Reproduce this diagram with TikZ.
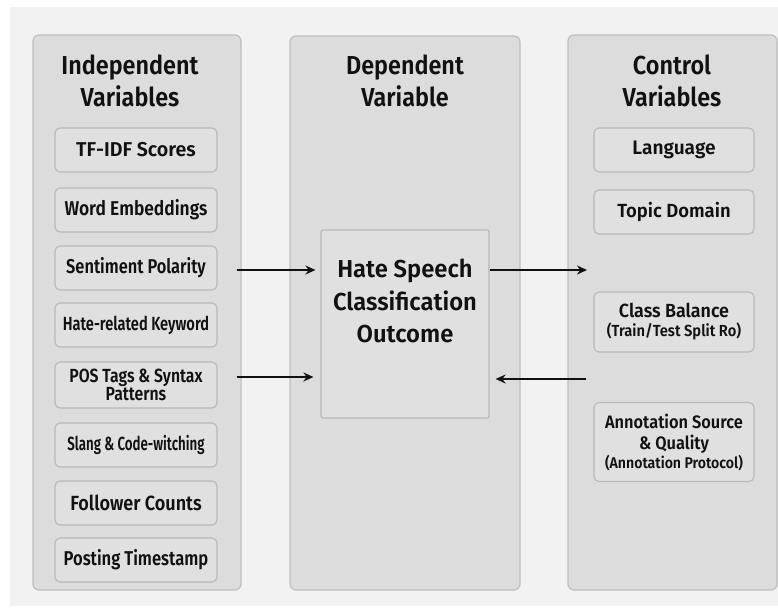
\documentclass[tikz,border=0pt]{standalone}
\usepackage{fontspec}
\setmainfont{Fira Sans}[UprightFont={* SemiBold},BoldFont={* SemiBold}]
\usetikzlibrary{arrows.meta}
\definecolor{bgc}{HTML}{F2F2F2}
\definecolor{panelfill}{HTML}{DCDCDC}
\definecolor{panelline}{HTML}{BEBEBE}
\definecolor{itemfill}{HTML}{E0E0E0}
\definecolor{itemline}{HTML}{B8B8B8}
\definecolor{ink}{HTML}{111111}
% size, leading and horizontal stretch of a text
\newcommand\sq[3]{\fontsize{#2}{#3}\selectfont\addfontfeatures{FakeStretch=#1}}
\tikzset{
  panel/.style={draw=panelline,fill=panelfill,line width=1.2pt,rounded corners=6pt},
  title/.style={font=\bfseries\sq{0.9}{26}{32},align=center,text=ink},
  leftitem/.style={draw=itemline,fill=itemfill,line width=1.1pt,rounded corners=5pt,
    minimum width=162pt,minimum height=44pt,inner sep=1pt,align=center,text=ink,
    font=\sq{0.9}{20}{20}},
  rightitem/.style={leftitem,minimum width=160pt},
  link/.style={draw=ink,line width=2.1pt,-{Stealth[length=10pt,width=9pt]}}
}
\begin{document}
\begin{tikzpicture}[x=1pt,y=-1pt]
\useasboundingbox (0,0) rectangle (778,613);
\fill[white] (0,0) rectangle (778,613);
\fill[bgc] (10,7) rectangle (778,606);

% three columns
\draw[panel] (33,35) rectangle (241,590);
\draw[panel] (290,36) rectangle (520,590);
\draw[panel] (568,35) rectangle (777,590);

% column titles
\node[title] (tind) at (130,81) {Independent\\Variables};
\node[title] (tdep) at (405,81) {Dependent\\Variable};
\node[title] (tctl) at (672,81) {Control\\Variables};

% independent variables
\node[leftitem,font=\sq{0.98}{20}{20}] (tfidf) at (136,150) {TF-IDF Scores};
\node[leftitem,font=\sq{0.87}{20}{20}] (emb) at (136,210) {Word Embeddings};
\node[leftitem,font=\sq{0.82}{20}{20}] (sent) at (136,268) {Sentiment Polarity};
\node[leftitem,font=\sq{0.77}{19}{19}] (kw) at (136,325) {Hate-related Keyword};
\node[leftitem,minimum height=46pt,font=\sq{0.83}{19}{18}] (pos) at (136,385) {POS Tags \& Syntax\\Patterns};
\node[leftitem,font=\sq{0.70}{19}{19}] (slang) at (136,445) {Slang \& Code-witching};
\node[leftitem,font=\sq{0.88}{20.5}{20}] (foll) at (136,503) {Follower Counts};
\node[leftitem,font=\sq{0.83}{20}{20}] (post) at (136,560) {Posting Timestamp};

% dependent variable
\node[draw=itemline,fill=itemfill,line width=1.2pt,rounded corners=2pt,
  minimum width=168pt,minimum height=188pt,align=center,text=ink,
  font=\sq{0.97}{24.5}{32.5}] (hate) at (405,324)
  {Hate Speech\\Classification\\Outcome\\[14pt]};

% control variables
\node[rightitem,font=\sq{0.98}{19.5}{20}] (lang) at (674,150) {Language};
\node[rightitem,font=\sq{0.97}{19}{20}] (topic) at (674,212) {Topic Domain};
\node[rightitem,minimum height=60pt,font=\sq{0.94}{19}{20}] (bal) at (674,322)
  {Class Balance\\[-1pt]{\sq{0.92}{16}{18}(Train/Test Split Ro)}};
\node[rightitem,minimum height=79pt,font=\sq{0.91}{18}{21}] (ann) at (674,442)
  {Annotation Source\\\& Quality\\[-2pt]{\sq{0.91}{15.5}{17}(Annotation Protocol)}};

% connectors
\coordinate (outend) at (587,270);
\coordinate (inbeg) at (586,379);
\draw[link] ([xshift=19pt]sent.east |- 0,270) -- ([xshift=-5pt]hate.west |- 0,270);
\draw[link] ([xshift=19pt]pos.east |- 0,377) -- ([xshift=-7pt]hate.west |- 0,377);
\draw[link] (hate.east |- 0,270) -- (outend);
\draw[link] (inbeg) -- ([xshift=6pt]hate.east |- 0,379);
\end{tikzpicture}
\end{document}
